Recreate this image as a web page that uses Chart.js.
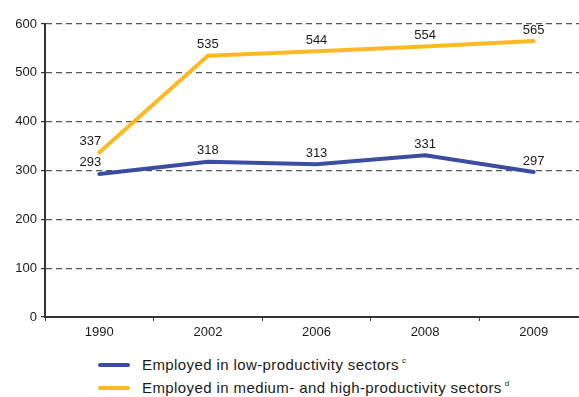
<!DOCTYPE html>
<html>
<head>
<meta charset="utf-8">
<script src="https://cdn.jsdelivr.net/npm/chart.js@4"></script>
<style>
  html, body { margin: 0; padding: 0; background: #fff; overflow: hidden; width: 579px; height: 397px; }
  #wrap { position: absolute; left: 0; top: 0; width: 600px; height: 345px; }
  .leg { position: absolute; left: 98px; font-family: "Liberation Sans", Arial, sans-serif; font-size: 15px; line-height: 17px; letter-spacing: 0.4px; color: #1a1a1a; white-space: nowrap; }
  .leg .sw { position: absolute; left: 0; top: 7px; width: 32px; height: 4px; border-radius: 2px; }
  .leg .tx { position: absolute; left: 44px; top: 0; }
  .leg sup { font-size: 8px; line-height: 0; vertical-align: 7px; margin-left: 3px; letter-spacing: 0; }
</style>
</head>
<body>
<div id="wrap"><canvas id="c"></canvas></div>
<div class="leg" style="top:356px"><span class="sw" style="background:#3B4DA0"></span><span class="tx">Employed in low-productivity sectors<sup>c</sup></span></div>
<div class="leg" style="top:379px"><span class="sw" style="background:#FDB924"></span><span class="tx">Employed in medium- and high-productivity sectors<sup>d</sup></span></div>
<script>
const categories = ["1990", "2002", "2006", "2008", "2009"];
const lowProductivity = [293, 318, 313, 331, 297];
const mediumHighProductivity = [337, 535, 544, 554, 565];
const yTicks = [0, 100, 200, 300, 400, 500, 600];

const labelPlugin = {
  id: 'valueLabels',
  afterDatasetsDraw(chart) {
    const ctx = chart.ctx;
    ctx.save();
    ctx.font = '13px "Liberation Sans", Arial, sans-serif';
    ctx.fillStyle = '#1a1a1a';
    ctx.textAlign = 'center';
    ctx.textBaseline = 'middle';
    chart.data.datasets.forEach((ds, di) => {
      const meta = chart.getDatasetMeta(di);
      meta.data.forEach((pt, i) => {
        const dx = i === 0 ? -9 : 0;
        ctx.fillText(String(ds.data[i]), pt.x + dx, pt.y - 11);
      });
    });
    ctx.restore();
  }
};

new Chart(document.getElementById('c'), {
  type: 'line',
  data: {
    labels: categories,
    datasets: [
      { label: 'Employed in low-productivity sectors', data: lowProductivity, borderColor: '#3B4DA0', backgroundColor: '#3B4DA0', borderWidth: 4, pointRadius: 0, tension: 0, borderCapStyle: 'round' },
      { label: 'Employed in medium- and high-productivity sectors', data: mediumHighProductivity, borderColor: '#FDB924', backgroundColor: '#FDB924', borderWidth: 4, pointRadius: 0, tension: 0, borderCapStyle: 'round' }
    ]
  },
  options: {
    responsive: true,
    maintainAspectRatio: false,
    animation: false,
    layout: { padding: { top: 24, right: 12, left: 0, bottom: 0 } },
    plugins: { legend: { display: false }, tooltip: { enabled: false } },
    scales: {
      x: {
        offset: true,
        grid: { display: true, drawOnChartArea: false, drawTicks: true, tickLength: 4, color: '#444', offset: true },
        border: { display: true, color: '#333', width: 2 },
        ticks: { color: '#1a1a1a', font: { family: '"Liberation Sans", Arial, sans-serif', size: 13 }, padding: 4 },
        afterFit: s => { s.height = 28; }
      },
      y: {
        min: 0, max: 600,
        afterBuildTicks: s => { s.ticks = yTicks.map(v => ({ value: v })); },
        grid: { color: '#555', lineWidth: 1.2, drawTicks: true, tickLength: 4, tickColor: '#333', tickBorderDash: [] },
        border: { display: true, color: '#333', width: 2, dash: [6, 4] },
        ticks: { color: '#1a1a1a', font: { family: '"Liberation Sans", Arial, sans-serif', size: 13 }, padding: 4 },
        afterFit: s => { s.width = 45; }
      }
    }
  },
  plugins: [labelPlugin]
});
</script>
</body>
</html>
